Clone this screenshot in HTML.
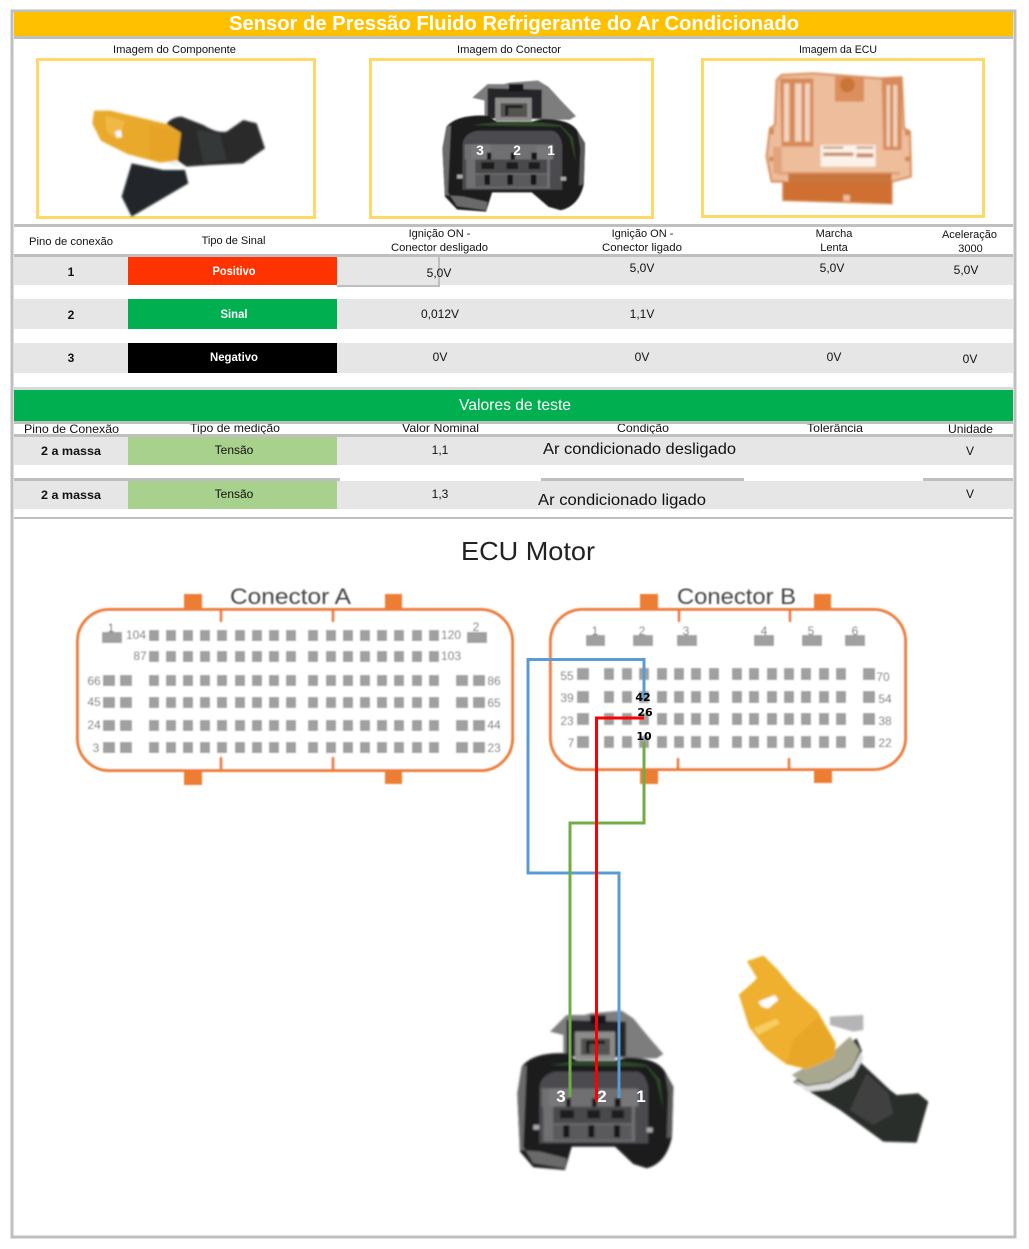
<!DOCTYPE html>
<html><head><meta charset="utf-8"><style>
html,body{margin:0;padding:0;background:#fff}
svg{display:block}
text{font-family:"Liberation Sans",sans-serif;fill:#111}
.h{font-size:11px;text-anchor:middle}
.c{text-anchor:middle;font-size:12px}
.b{font-weight:bold}
.w{fill:#fff}
.p{font-size:12px;fill:#666;text-anchor:middle}
</style></head><body>
<svg width="1029" height="1249" viewBox="0 0 1029 1249" xmlns="http://www.w3.org/2000/svg">
<defs>
<filter id="bl" x="-5%" y="-5%" width="110%" height="110%"><feGaussianBlur stdDeviation="0.8"/></filter>
<filter id="bp" x="-5%" y="-5%" width="110%" height="110%"><feGaussianBlur stdDeviation="3"/></filter>
<path id="ra" d="M149 0h10v11h-10zM166 0h10v11h-10zM183 0h10v11h-10zM200 0h10v11h-10zM217 0h10v11h-10zM235 0h10v11h-10zM252 0h10v11h-10zM269 0h10v11h-10zM286 0h10v11h-10zM308 0h10v11h-10zM326 0h10v11h-10zM343 0h10v11h-10zM360 0h10v11h-10zM377 0h10v11h-10zM394 0h10v11h-10zM412 0h10v11h-10zM429 0h10v11h-10z"/>
<path id="rb" d="M604 0h10v12h-10zM622 0h10v12h-10zM639 0h10v12h-10zM657 0h10v12h-10zM674 0h10v12h-10zM691 0h10v12h-10zM709 0h10v12h-10zM732 0h10v12h-10zM749 0h10v12h-10zM767 0h10v12h-10zM784 0h10v12h-10zM801 0h10v12h-10zM819 0h10v12h-10zM836 0h10v12h-10zM577 0h12v12h-12zM863 0h12v12h-12z"/>
<g id="conn" filter="url(#bp)">
<path d="M150 245L200 195L255 195L270 190L365 182L400 205L445 260L490 312L470 325L380 325L190 310L190 255Z" fill="#7d7d7d"/>
<path d="M200 210L378 215L378 320L200 320Z" fill="#26262a"/>
<path d="M270 195H318V222H270Z" fill="#18181a"/>
<path d="M225 245H345V330H225Z" fill="#8c8c8a"/>
<path d="M243 265H330V315H243Z" fill="#55534f"/>
<path d="M258 272H268V310H258ZM268 272H315V282H268Z" fill="#1e1e1e"/>
<path d="M65 350Q100 305 200 310L230 332L345 332L380 322Q470 322 495 365L520 410L516 560Q500 640 440 655L400 642L345 590L215 590L195 660L100 652L60 605L52 430Z" fill="#1a1b1a"/>
<path d="M65 350L80 345L70 590L100 640L195 655L200 625L120 605L60 600L52 430Z" fill="#6a6a6a"/>
<path d="M495 365L520 410L516 560L500 565L505 430Z" fill="#5a5c5a"/>
<path d="M150 345Q300 320 440 345L480 390L490 480L470 390L440 350Z" fill="#2f4a2c"/>
<path d="M118 420Q120 375 165 365H410Q440 370 445 420L445 580H118Z" fill="#4c4c50"/>
<path d="M125 415H415V470L405 470V575H130V470H125Z" fill="#6f6f72"/>
<path d="M145 415H210V470H145ZM360 420H415V470H360Z" fill="#78787a"/>
<path d="M160 470H395V520H160Z" fill="#4a4a4c"/>
<path d="M180 480H222V505H180ZM262 480H300V505H262ZM335 480H372V505H335Z" fill="#1a1a1a"/>
<path d="M198 445H212V470H198ZM276 445H290V470H276ZM344 445H362V470H344Z" fill="#151515"/>
<path d="M160 525H395V570H160Z" fill="#5a5a5c"/>
<path d="M190 525H208V562H190ZM265 525H283V562H265ZM342 525H360V562H342Z" fill="#161616"/>
<path d="M100 525h18v14h-18zM440 533h18v14h-18z" fill="#aaa"/>
</g>
</defs>
<rect x="12" y="11" width="1003" height="1226" fill="#fff" stroke="#bfbfbf" stroke-width="3"/>
<rect x="14" y="12" width="999" height="24" fill="#ffc000"/>
<rect x="14" y="36" width="999" height="3" fill="#bfbfbf"/>
<text x="514" y="30" text-anchor="middle" font-size="20" font-weight="bold" class="w" textLength="570" lengthAdjust="spacingAndGlyphs">Sensor de Pressão Fluido Refrigerante do Ar Condicionado</text>

<text x="174.500" y="53" class="h" textLength="123" lengthAdjust="spacingAndGlyphs">Imagem do Componente</text>
<text x="509" y="53" class="h" textLength="104" lengthAdjust="spacingAndGlyphs">Imagem do Conector</text>
<text x="838" y="53" class="h" textLength="78" lengthAdjust="spacingAndGlyphs">Imagem da ECU</text>
<rect x="37.500" y="59.500" width="277" height="158" fill="#fff" stroke="#ffd966" stroke-width="3"/>
<rect x="370.500" y="59.500" width="282" height="158" fill="#fff" stroke="#ffd966" stroke-width="3"/>
<rect x="702.500" y="59.500" width="281" height="157" fill="#fff" stroke="#ffd966" stroke-width="3"/>

<!-- sensor top -->
<g transform="scale(0.3333)" filter="url(#bp)">
<path d="M395 490L490 510L555 510L565 550L395 650L365 590Z" fill="#23262a"/>
<path d="M500 370Q520 350 545 350L610 375Q650 400 680 395L730 360L770 370L795 445L730 490L630 495L560 500L530 480Z" fill="#2a2c2b"/>
<path d="M590 390L660 400L680 480L610 490Z" fill="#363837"/>
<path d="M285 335L330 335L500 375L540 400L530 480L480 485L385 460L305 420L280 370Z" fill="#e9a92c" stroke="#e9a92c" stroke-width="6" stroke-linejoin="round"/>
<path d="M315 345L375 365L355 420L320 395Z" fill="#f0b945" />
<path d="M345 395l18 -5l3 22l-16 0z" fill="#fff"/>
<path d="M450 375L540 400L530 480L450 475Z" fill="#e6a325"/>
<path d="M530 480L500 490L540 498Z" fill="#eee"/>
</g>

<!-- connector top -->
<g transform="translate(426.600 30.600) scale(0.3047 0.2743)"><use href="#conn"/></g>
<text x="480" y="155" class="c b w" style="font-size:14px">3</text>
<text x="517" y="155" class="c b w" style="font-size:14px">2</text>
<text x="551" y="155" class="c b w" style="font-size:14px">1</text>

<!-- ECU -->
<g transform="translate(510 0) scale(0.3333)">
<g filter="url(#bp)">
<path d="M800 240L815 225L910 220L1110 235L1175 232L1182 385L1200 395L1203 530L1145 545L1145 610L820 600L820 545L785 545L770 470L780 385L795 375Z" fill="#edbd9c" stroke="#d98a55" stroke-width="6"/>
<path d="M810 235H910V440L815 440Z" fill="#d88a5a"/>
<path d="M822 250H838V425H822ZM855 250H875V425H855ZM885 250H900V425H885Z" fill="#f2d4be"/>
<path d="M1115 235H1175V450H1120Z" fill="#d88a5a"/>
<path d="M1130 255H1140V440H1130ZM1150 255H1162V440H1150Z" fill="#f2d4be"/>
<path d="M975 230H1062V305H975Z" fill="#dc8e5c"/>
<circle cx="1012" cy="255" r="22" fill="#c97436"/>
<path d="M932 435H1097V500H932Z" fill="#fbf2ea"/>
<path d="M940 440H1000V446H940ZM1040 440H1090V446H1040ZM940 458H1030V468H940ZM1040 460H1090V472H1040Z" fill="#c88a60"/>
<path d="M790 440H815L815 520H790ZM805 515H1170V525H805Z" fill="#e2a47c"/>
<path d="M820 545H1145V610L1020 605V585H1000V605L820 600Z" fill="#cf7030"/>
<path d="M835 520H1145V548H835Z" fill="#c9753a"/>
<path d="M780 385h12v18h-12zM1185 390h15v16h-15zM1185 470h15v14h-15zM778 470h12v14h-12z" fill="#d38a58"/>
</g>
</g>

<!-- table 1 -->
<rect x="14" y="224" width="999" height="3" fill="#bfbfbf"/>
<rect x="14" y="254" width="999" height="3" fill="#bfbfbf"/>
<text x="71" y="245" class="h" textLength="84" lengthAdjust="spacingAndGlyphs">Pino de conexão</text>
<text x="233.500" y="244" class="h">Tipo de Sinal</text>
<text x="439.500" y="237" class="h">Ignição ON -</text>
<text x="439.500" y="251" class="h" textLength="97" lengthAdjust="spacingAndGlyphs">Conector desligado</text>
<text x="642.500" y="237" class="h">Ignição ON -</text>
<text x="642" y="251" class="h" textLength="80" lengthAdjust="spacingAndGlyphs">Conector ligado</text>
<text x="834" y="237" class="h">Marcha</text>
<text x="834" y="251" class="h">Lenta</text>
<text x="969.500" y="238" class="h">Aceleração</text>
<text x="970.500" y="252" class="h">3000</text>

<rect x="14" y="257" width="999" height="28" fill="#e6e6e6"/>
<rect x="14" y="299" width="999" height="30" fill="#e6e6e6"/>
<rect x="14" y="343" width="999" height="30" fill="#e6e6e6"/>
<rect x="128" y="257" width="209" height="28" fill="#ff3300"/>
<rect x="128" y="299" width="209" height="30" fill="#00b050"/>
<rect x="128" y="343" width="209" height="30" fill="#000"/>
<path d="M337 286H439V257" fill="none" stroke="#bfbfbf" stroke-width="2"/>
<text x="71" y="276" class="c b">1</text>
<text x="234" y="275" class="c b w" textLength="43" lengthAdjust="spacingAndGlyphs">Positivo</text>
<text x="439" y="277" class="c">5,0V</text>
<text x="642" y="272" class="c">5,0V</text>
<text x="832" y="272" class="c">5,0V</text>
<text x="966" y="274" class="c">5,0V</text>
<text x="71" y="319" class="c b">2</text>
<text x="234" y="318" class="c b w" textLength="27" lengthAdjust="spacingAndGlyphs">Sinal</text>
<text x="440" y="318" class="c">0,012V</text>
<text x="642" y="318" class="c">1,1V</text>
<text x="71" y="362" class="c b">3</text>
<text x="234" y="361" class="c b w" textLength="48" lengthAdjust="spacingAndGlyphs">Negativo</text>
<text x="440" y="361" class="c">0V</text>
<text x="642" y="361" class="c">0V</text>
<text x="834" y="361" class="c">0V</text>
<text x="970" y="363" class="c">0V</text>

<!-- table 2 -->
<rect x="14" y="387" width="999" height="3" fill="#d9d9d9"/>
<text x="71.500" y="433" class="c" textLength="95" lengthAdjust="spacingAndGlyphs">Pino de Conexão</text>
<text x="235" y="432" class="c" textLength="90" lengthAdjust="spacingAndGlyphs">Tipo de medição</text>
<text x="440.500" y="432" class="c" textLength="77" lengthAdjust="spacingAndGlyphs">Valor Nominal</text>
<text x="643" y="432" class="c" textLength="52" lengthAdjust="spacingAndGlyphs">Condição</text>
<text x="835" y="432" class="c" textLength="56" lengthAdjust="spacingAndGlyphs">Tolerância</text>
<text x="970.500" y="433" class="c" textLength="45" lengthAdjust="spacingAndGlyphs">Unidade</text>
<rect x="14" y="390" width="999" height="31" fill="#00b050"/>
<rect x="14" y="421" width="999" height="3" fill="#bfbfbf"/>
<text x="515" y="410" text-anchor="middle" font-size="16" class="w" textLength="112" lengthAdjust="spacingAndGlyphs">Valores de teste</text>
<rect x="14" y="434" width="999" height="3" fill="#bfbfbf"/>
<rect x="14" y="437" width="999" height="28" fill="#e6e6e6"/>
<rect x="14" y="481" width="999" height="28" fill="#e6e6e6"/>
<rect x="128" y="437" width="209" height="28" fill="#a9d18e"/>
<rect x="128" y="481" width="209" height="28" fill="#a9d18e"/>
<path d="M14 478H340V481H14ZM541 478H744V481H541ZM923 478H1013V481H923Z" fill="#bfbfbf"/>
<text x="71" y="455" class="c b" textLength="60" lengthAdjust="spacingAndGlyphs">2 a massa</text>
<text x="234" y="454" class="c">Tensão</text>
<text x="440" y="454" class="c">1,1</text>
<text x="543" y="454" font-size="16" textLength="193" lengthAdjust="spacingAndGlyphs">Ar condicionado desligado</text>
<text x="970" y="455" class="c">V</text>
<text x="71" y="499" class="c b" textLength="60" lengthAdjust="spacingAndGlyphs">2 a massa</text>
<text x="234" y="498" class="c">Tensão</text>
<text x="440" y="498" class="c">1,3</text>
<text x="538" y="505" font-size="16" textLength="168" lengthAdjust="spacingAndGlyphs">Ar condicionado ligado</text>
<text x="970" y="498" class="c">V</text>
<rect x="14" y="517" width="999" height="2" fill="#bfbfbf"/>

<text x="461" y="560" font-size="26" textLength="134" lengthAdjust="spacingAndGlyphs" style="fill:#222">ECU Motor</text>

<!-- Connector A -->
<g filter="url(#bl)">
<text x="230" y="604" font-size="22" textLength="121" lengthAdjust="spacingAndGlyphs" style="fill:#444">Conector A</text>
<path d="M184 594h18v15h-18zM385 594h17v15h-17zM184 771h18v14h-18zM385 771h17v13h-17z" fill="#ed7d31"/>
<rect x="77.500" y="609.500" width="435" height="161" rx="32" fill="#fff" stroke="#ed7d31" stroke-width="3"/>
<path d="M221 609v13M333 609v13M221 757v14M333 757v14" stroke="#ed7d31" stroke-width="3" fill="none"/>
<g fill="#a0a0a0">
<use href="#ra" y="630"/><use href="#ra" y="651"/><use href="#ra" y="675"/><use href="#ra" y="697"/><use href="#ra" y="720"/><use href="#ra" y="742"/>
<path d="M102 632h20v11h-20zM467 632h20v11h-20z"/>
<path d="M103 675h12v11h-12zM120 675h12v11h-12zM103 697h12v11h-12zM120 697h12v11h-12zM103 720h12v11h-12zM120 720h12v11h-12zM103 742h12v11h-12zM120 742h12v11h-12zM456 675h12v11h-12zM473 675h12v11h-12zM456 697h12v11h-12zM473 697h12v11h-12zM456 720h12v11h-12zM473 720h12v11h-12zM456 742h12v11h-12zM473 742h12v11h-12z"/>
</g>
<text x="111" y="632" class="p">1</text><text x="476" y="631" class="p">2</text>
<text x="136" y="639" class="p">104</text><text x="140" y="660" class="p">87</text>
<text x="451" y="639" class="p">120</text><text x="451" y="660" class="p">103</text>
<text x="94" y="685" class="p">66</text><text x="94" y="706" class="p">45</text><text x="94" y="729" class="p">24</text><text x="96" y="752" class="p">3</text>
<text x="494" y="685" class="p">86</text><text x="494" y="707" class="p">65</text><text x="494" y="729" class="p">44</text><text x="494" y="752" class="p">23</text>
</g>

<!-- Connector B -->
<g filter="url(#bl)">
<text x="677" y="604" font-size="22" textLength="119" lengthAdjust="spacingAndGlyphs" style="fill:#444">Conector B</text>
<path d="M640 594h18v15h-18zM814 594h17v15h-17zM640 770h18v14h-18zM814 770h18v13h-18z" fill="#ed7d31"/>
<rect x="550.500" y="609.500" width="355" height="160" rx="32" fill="#fff" stroke="#ed7d31" stroke-width="3"/>
<path d="M679 609v13M790 609v13M678 758v12M789 758v12" stroke="#ed7d31" stroke-width="3" fill="none"/>
<g fill="#a0a0a0">
<use href="#rb" y="668"/><use href="#rb" y="691"/><use href="#rb" y="713"/><use href="#rb" y="736"/>
<path d="M586 635h19v11h-19zM633 635h20v11h-20zM677 635h20v11h-20zM754 635h20v11h-20zM802 635h20v11h-20zM845 635h20v11h-20z"/>
</g>
<text x="595" y="635" class="p">1</text><text x="642" y="635" class="p">2</text><text x="686" y="635" class="p">3</text><text x="764" y="635" class="p">4</text><text x="811" y="635" class="p">5</text><text x="855" y="635" class="p">6</text>
<text x="567" y="680" class="p">55</text><text x="567" y="702" class="p">39</text><text x="567" y="725" class="p">23</text><text x="571" y="747" class="p">7</text>
<text x="883" y="681" class="p">70</text><text x="885" y="703" class="p">54</text><text x="885" y="725" class="p">38</text><text x="885" y="747" class="p">22</text>
</g>

<!-- bottom connector & sensor -->
<g transform="translate(500 950) scale(0.3333)"><use href="#conn"/></g>
<g transform="translate(500 950) scale(0.3333)" filter="url(#bp)">
<path d="M990 200L1090 195L1090 240L1060 245L990 225Z" fill="#b5b5b5"/>
<path d="M880 395L1070 265L1085 300L1085 340L1170 420L1190 435L1255 430L1285 455L1250 578L1150 575L1020 480Z" fill="#2b2d2c"/>
<path d="M1100 370L1165 430L1180 490L1120 525L1050 480Z" fill="#3f4140"/>
<path d="M875 375L1005 300L1050 260L1080 300L1055 355L990 395L920 405Z" fill="#a8a890"/>
<path d="M880 388L920 408L990 398L1055 358L1083 305L1090 325L1060 380L990 418L920 425Z" fill="#ddd"/>
<path d="M745 35L790 20L830 60L880 120L950 185L1005 280L1000 320L920 355L860 340L800 295L750 230L720 135L760 100L775 85Z" fill="#eeb02e" stroke="#eeb02e" stroke-width="6" stroke-linejoin="round"/>
<path d="M860 340L880 270L955 200L1005 280L1000 320L920 355Z" fill="#e8a726"/>
<path d="M775 155L825 135L835 150L805 175L785 170Z" fill="#fff"/>
<path d="M760 235L830 205L840 220L775 255Z" fill="#f6cd5e"/>
</g>

<!-- wires -->
<g fill="none" stroke-width="3">
<path d="M644 700V659.500H528V873H619V1098" stroke="#5b9bd5"/>
<path d="M644 742V823H570V1097" stroke="#70ad47"/>
<path d="M644 718H596.500V1102" stroke="#ff0000"/>
</g>
<text x="643" y="701" text-anchor="middle" font-size="11" font-weight="bold" style="font-family:'DejaVu Sans',sans-serif;fill:#000">42</text>
<text x="645" y="716" text-anchor="middle" font-size="11" font-weight="bold" style="font-family:'DejaVu Sans',sans-serif;fill:#000">26</text>
<text x="644" y="740" text-anchor="middle" font-size="11" font-weight="bold" style="font-family:'DejaVu Sans',sans-serif;fill:#000">10</text>
<text x="561" y="1102" class="c b w" style="font-size:17px">3</text>
<text x="602" y="1102" class="c b w" style="font-size:17px">2</text>
<text x="641" y="1102" class="c b w" style="font-size:17px">1</text>
</svg>
</body></html>
